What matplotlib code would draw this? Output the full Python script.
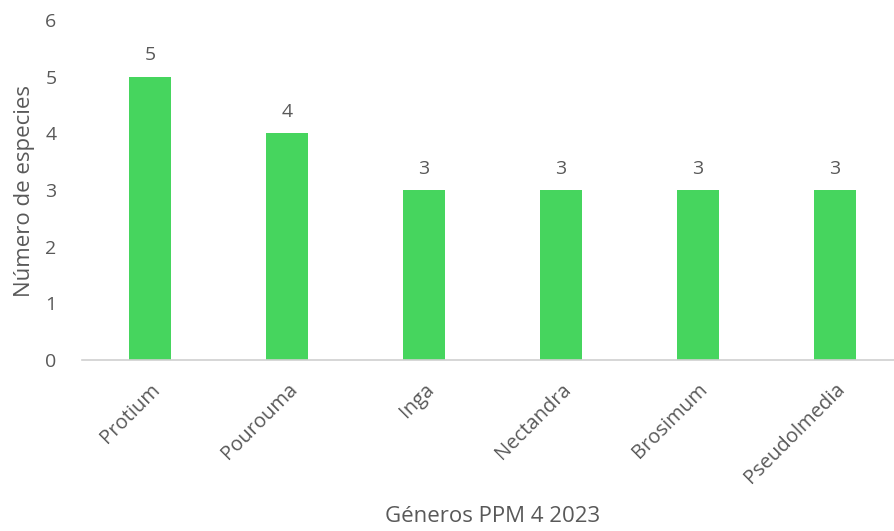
import matplotlib.pyplot as plt

generos = ["Protium", "Pourouma", "Inga", "Nectandra", "Brosimum", "Pseudolmedia"]
especies = [5, 4, 3, 3, 3, 3]

plt.rcParams["font.family"] = ["Open Sans", "DejaVu Sans"]
gris = "#595959"

fig = plt.figure(figsize=(8.95, 5.31), dpi=100)
W, H = 895, 531
ax = fig.add_axes([81.5 / W, (H - 360) / H, 822 / W, 340 / H])

bars = ax.bar(range(len(generos)), especies, width=0.31, color="#46D55E", zorder=2)
for b, v in zip(bars, especies):
    ax.annotate(str(v), (b.get_x() + b.get_width() / 2, v), xytext=(0, 9),
                textcoords="offset points", ha="center", va="bottom",
                fontsize=14, color=gris)

ax.set_xlim(-0.5, len(generos) - 0.5)
ax.set_ylim(0, 6)
ax.set_yticks(range(7))
ax.set_xticks(range(len(generos)))
ax.set_xticklabels(generos, rotation=45, ha="right", rotation_mode="anchor")
ax.tick_params(axis="both", length=0, colors=gris, labelsize=14)
ax.tick_params(axis="y", pad=18)
ax.tick_params(axis="x", labelsize=14.5, pad=14)

for s in ["top", "right", "left"]:
    ax.spines[s].set_visible(False)
ax.spines["bottom"].set_color("#D0D0D0")
ax.spines["bottom"].set_linewidth(1.2)

fig.text(25 / W, 1 - 191 / H, "Número de especies", rotation=90, ha="center",
         va="center", fontsize=16, color=gris)
fig.text(493 / W, 1 - 516 / H, "Géneros PPM 4 2023", ha="center", va="center",
         fontsize=16, color=gris)

fig.savefig("out.png", dpi=100)
